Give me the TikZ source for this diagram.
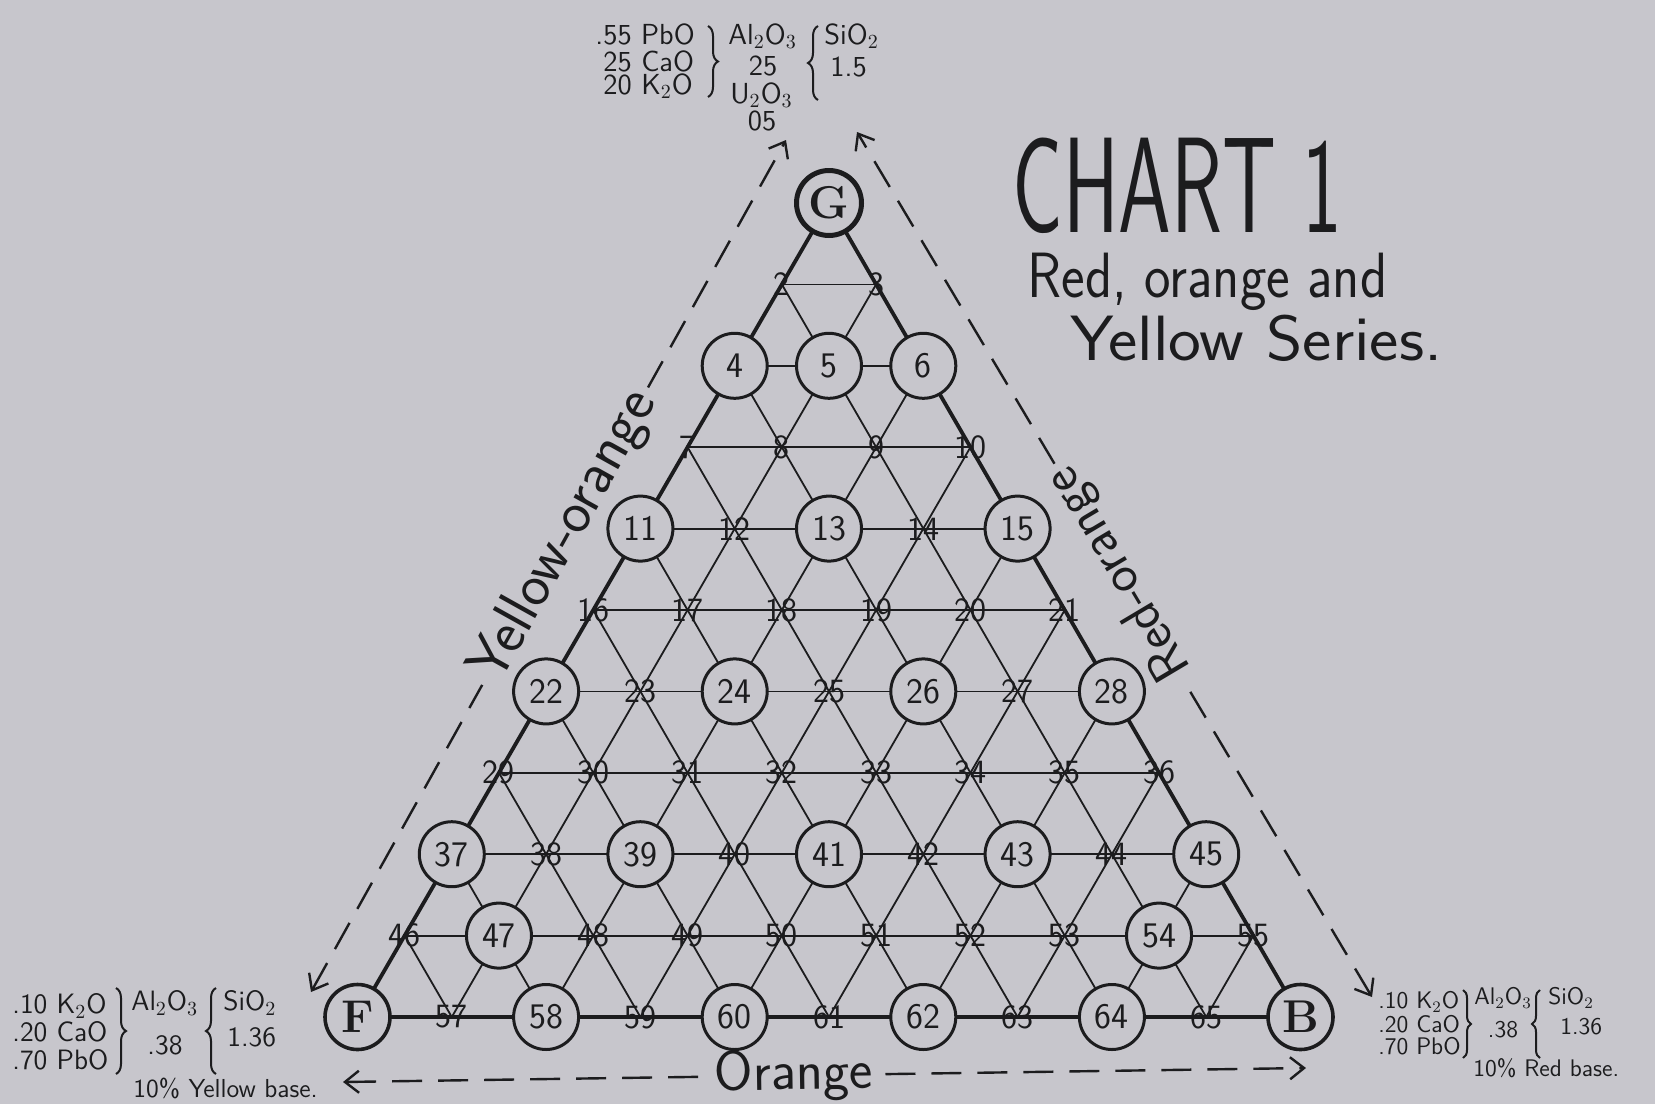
\documentclass[tikz,border=0pt]{standalone}
\usepackage{fontspec}
\usepackage{graphicx}
\usetikzlibrary{arrows.meta,decorations.pathreplacing}
\definecolor{paper}{RGB}{199,198,204}
\definecolor{ink}{RGB}{28,28,30}
\pgfdeclarelayer{paperlayer}
\pgfdeclarelayer{gridlayer}
\pgfsetlayers{paperlayer,gridlayer,main}
\tikzset{
  startbarb/.style={{Straight Barb[length=7pt,width=11pt]}-},
  endbarb/.style={-{Straight Barb[length=7pt,width=11pt]}},
}
\begin{document}
\begin{tikzpicture}[x=0.5pt,y=-0.5pt,
  every node/.style={text=ink},
  ring/.style={circle, draw=ink, line width=1.5pt, fill=paper, minimum size=32.5pt, inner sep=0pt, font=\sffamily\fontsize{18}{18}\selectfont},
  letterring/.style={ring, line width=1.8pt, font=\bfseries\fontsize{23}{23}\selectfont},
  lbl/.style={inner sep=0pt, font=\sffamily\fontsize{17}{17}\selectfont},
  gridline/.style={draw=ink, line width=0.9pt},
  outerline/.style={draw=ink, line width=1.9pt, line join=round},
  dashbase/.style={draw=ink, line width=1.2pt, dash pattern=on 15pt off 8pt},
  chem/.style={inner sep=0pt, anchor=west, font=\sffamily\fontsize{14.5}{14.5}\selectfont},
  cheml/.style={inner sep=0pt, anchor=west, font=\sffamily\fontsize{14}{14}\selectfont},
  chems/.style={inner sep=0pt, anchor=west, font=\sffamily\fontsize{12}{12}\selectfont},
  bracestyle/.style={draw=ink, line width=1pt, decorate, decoration={brace, amplitude=5pt}},
  sidelabel/.style={inner sep=4pt},
]
\useasboundingbox (0,0) rectangle (1655,1104);
\begin{pgfonlayer}{paperlayer}
  \fill[paper] (0,0) rectangle (1655,1104);
\end{pgfonlayer}

% corner nodes
\node[letterring, line width=2.5pt] (p1) at (829,203) {G};
\node[letterring] (p56) at (357.5,1017) {F};
\node[letterring] (p66) at (1300.5,1017) {B};

% circled points
\foreach \n/\i/\j in {4/3/1,5/3/2,6/3/3,11/5/1,13/5/3,15/5/5,22/7/1,24/7/3,26/7/5,28/7/7,37/9/1,39/9/3,41/9/5,43/9/7,45/9/9,47/10/2,54/10/9,58/11/3,60/11/5,62/11/7,64/11/9}{
  \pgfmathsetmacro\px{829+(\j-(\i+1)/2)*94.3}
  \pgfmathsetmacro\py{203+(\i-1)*81.4}
  \node[ring] (p\n) at (\px,\py) {\n};
}
% plain numbered points
\foreach \n/\i/\j in {2/2/1,3/2/2,7/4/1,8/4/2,9/4/3,10/4/4,12/5/2,14/5/4,16/6/1,17/6/2,18/6/3,19/6/4,20/6/5,21/6/6,23/7/2,25/7/4,27/7/6,29/8/1,30/8/2,31/8/3,32/8/4,33/8/5,34/8/6,35/8/7,36/8/8,38/9/2,40/9/4,42/9/6,44/9/8,46/10/1,48/10/3,49/10/4,50/10/5,51/10/6,52/10/7,53/10/8,55/10/10,57/11/2,59/11/4,61/11/6,63/11/8,65/11/10}{
  \pgfmathsetmacro\px{829+(\j-(\i+1)/2)*94.3}
  \pgfmathsetmacro\py{203+(\i-1)*81.4}
  \node[lbl] (p\n) at (\px,\py) {\n};
}

% grid lines
\begin{pgfonlayer}{gridlayer}
  \foreach \a/\b in {2/3,4/6,7/10,11/15,16/21,22/28,29/36,37/45,46/55,
                     57/3,58/6,59/10,60/15,61/21,62/28,63/36,64/45,65/55,
                     2/65,4/64,7/63,11/62,16/61,22/60,29/59,37/58,46/57}
    \draw[gridline] (p\a.center) -- (p\b.center);
  \draw[outerline] (p1.center) -- (p56.center) -- (p66.center) -- cycle;
\end{pgfonlayer}

% dashed side arrows with their labels
\coordinate (yl1) at (311,992);
\coordinate (yl2) at (786,140);
\path (yl1) -- node[sidelabel, pos=0.535, sloped, font=\sffamily\fontsize{30}{30}\selectfont] (yo) {Yellow-orange} (yl2);
\draw[dashbase, startbarb] (yl1) -- (yo);
\draw[dashbase, endbarb] (yo) -- (yl2);

\coordinate (rl1) at (1372,997);
\coordinate (rl2) at (857,132);
\path (rl1) -- node[sidelabel, pos=0.49, sloped, allow upside down, font=\sffamily\fontsize{27}{27}\selectfont] (ro) {Red-orange} (rl2);
\draw[dashbase, startbarb] (rl1) -- (ro);
\draw[dashbase, endbarb] (ro) -- (rl2);

\coordinate (bl1) at (343,1082);
\coordinate (bl2) at (1306,1068);
\path (bl1) -- node[sidelabel, inner sep=6pt, pos=0.468, sloped, font=\sffamily\fontsize{28}{28}\selectfont] (og) {Orange} (bl2);
\draw[dashbase, startbarb] (bl1) -- (og);
\draw[dashbase, endbarb] (og) -- (bl2);

% title
\node[anchor=base west, inner sep=0pt] (title) at (1012,232) {\resizebox{165pt}{\height}{\sffamily\fontsize{68}{68}\selectfont CHART 1}};
\node[anchor=base west, inner sep=0pt] (sub1) at (1027,297) {\resizebox{180pt}{\height}{\sffamily\fontsize{32}{32}\selectfont Red, orange and}};
\node[anchor=base west, inner sep=0pt] (sub2) at (1070,360) {\resizebox{186pt}{\height}{\sffamily\fontsize{32}{32}\selectfont Yellow Series.}};

% top formula
\node[chem] (ta1) at (595,34) {.55 PbO};
\node[chem] (ta2) at (603,61) {25 CaO};
\node[chem] (ta3) at (603,86) {20 K$_2$O};
\draw[bracestyle] (708,26) -- (708,97);
\node[chem] (tb1) at (728,36) {Al$_2$O$_3$};
\node[chem, anchor=center] (tb2) at (763,66) {25};
\node[chem] (tb3) at (730,95) {U$_2$O$_3$};
\node[chem, anchor=center] (tb4) at (762,121) {05};
\draw[bracestyle] (818,100) -- (818,26);
\node[chem] (tc1) at (824,36) {SiO$_2$};
\node[chem] (tc2) at (830,67) {1.5};

% left formula
\node[cheml] (la1) at (12,1006) {.10 K$_2$O};
\node[cheml] (la2) at (12,1032) {.20 CaO};
\node[cheml] (la3) at (12,1060) {.70 PbO};
\draw[bracestyle] (116,988) -- (116,1074);
\node[cheml] (lb1) at (131,1003) {Al$_2$O$_3$};
\node[cheml, anchor=center] (lb2) at (165,1045) {.38};
\draw[bracestyle] (216,1074) -- (216,988);
\node[cheml] (lc1) at (223,1003) {SiO$_2$};
\node[cheml] (lc2) at (227,1037) {1.36};
\node[cheml, font=\sffamily\fontsize{13}{13}\selectfont] (ld) at (133,1088) {10\% Yellow base.};

% right formula
\node[chems] (ra1) at (1378,1002) {.10 K$_2$O};
\node[chems] (ra2) at (1378,1024) {.20 CaO};
\node[chems] (ra3) at (1378,1046) {.70 PbO};
\draw[bracestyle, decoration={brace, amplitude=4pt}] (1463,990) -- (1463,1058);
\node[chems] (rb1) at (1474,998) {Al$_2$O$_3$};
\node[chems, anchor=center] (rb2) at (1503,1030) {.38};
\draw[bracestyle, decoration={brace, amplitude=4pt}] (1540,1058) -- (1540,990);
\node[chems] (rc1) at (1548,998) {SiO$_2$};
\node[chems] (rc2) at (1560,1027) {1.36};
\node[chems] (rd) at (1473,1068) {10\% Red base.};
\end{tikzpicture}
\end{document}
